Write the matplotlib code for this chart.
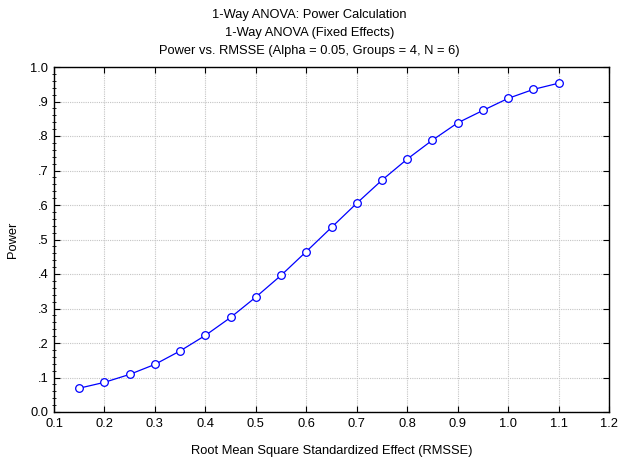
import matplotlib
matplotlib.use("Agg")
import matplotlib.pyplot as plt
from matplotlib.ticker import MultipleLocator, FixedLocator

plt.rcParams["font.family"] = ["Liberation Sans", "DejaVu Sans"]
plt.rcParams["font.size"] = 9.3

rmsse = [0.15, 0.20, 0.25, 0.30, 0.35, 0.40, 0.45, 0.50, 0.55, 0.60, 0.65,
         0.70, 0.75, 0.80, 0.85, 0.90, 0.95, 1.00, 1.05, 1.10]
power = [0.069, 0.086, 0.109, 0.138, 0.177, 0.222, 0.274, 0.333, 0.396, 0.465,
         0.535, 0.605, 0.672, 0.733, 0.788, 0.838, 0.874, 0.909, 0.935, 0.953]

x_ticks = [0.1, 0.2, 0.3, 0.4, 0.5, 0.6, 0.7, 0.8, 0.9, 1.0, 1.1, 1.2]
y_ticks = [0.0, 0.1, 0.2, 0.3, 0.4, 0.5, 0.6, 0.7, 0.8, 0.9, 1.0]
y_labels = ["0.0", ".1", ".2", ".3", ".4", ".5", ".6", ".7", ".8", ".9", "1.0"]

fig = plt.figure(figsize=(6.19, 4.63), dpi=100)
ax = fig.add_axes([54 / 619, 1 - 412 / 463, (609 - 54) / 619, (412 - 67) / 463])

ax.plot(rmsse, power, color="#0000ff", lw=0.9, marker="o", ms=5.5,
        mfc="white", mec="#0000ff", mew=0.9, zorder=3)

ax.set_xlim(0.1, 1.2)
ax.set_ylim(0.0, 1.0)
ax.xaxis.set_major_locator(FixedLocator(x_ticks))
ax.set_xticklabels([f"{v:.1f}" for v in x_ticks])
ax.yaxis.set_major_locator(FixedLocator(y_ticks))
ax.set_yticklabels(y_labels)
ax.yaxis.set_minor_locator(MultipleLocator(0.02))

# light dotted grid like the original
ax.grid(True, which="major", color="#c4c4c4", ls=(0, (1, 1)), lw=0.8)
ax.tick_params(which="major", direction="in", length=4, width=0.8,
               top=True, right=True, labelsize=9.3, pad=4)
ax.tick_params(which="minor", direction="inout", length=3, width=0.6,
               left=True, right=False)
for s in ax.spines.values():
    s.set_linewidth(1.0)

ax.set_xlabel("Root Mean Square Standardized Effect (RMSSE)", labelpad=11)
ax.set_ylabel("Power", labelpad=8)

fig.text(0.5, 1 - 15 / 463, "1-Way ANOVA: Power Calculation", ha="center", va="center")
fig.text(0.5, 1 - 33 / 463, "1-Way ANOVA (Fixed Effects)", ha="center", va="center")
fig.text(0.5, 1 - 51 / 463, "Power vs. RMSSE (Alpha = 0.05, Groups = 4, N = 6)",
         ha="center", va="center")

fig.savefig("out.png", dpi=100)
